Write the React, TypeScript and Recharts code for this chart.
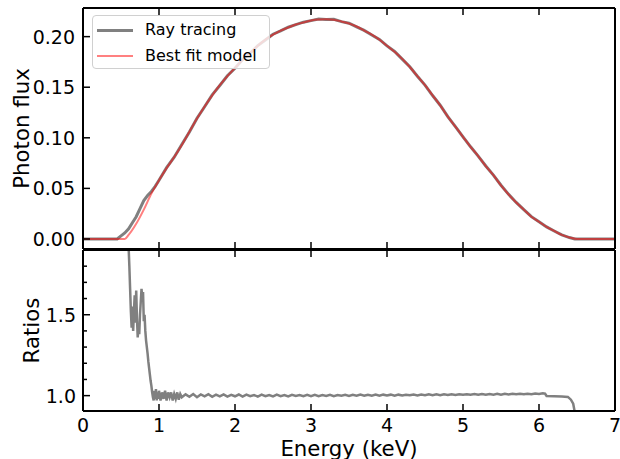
import { ComposedChart, Line, XAxis, YAxis, Legend, Label } from 'recharts';

// best fit model (top panel)
const modelEnergy = [0, 0.5, 0.55, 0.6, 0.7, 0.8, 0.9, 1.0, 1.1, 1.2, 1.3, 1.4, 1.5, 1.6, 1.7, 1.8, 1.9, 2.0, 2.1, 2.2, 2.3, 2.4, 2.5, 2.6, 2.7, 2.8, 2.9, 3.0, 3.1, 3.2, 3.3, 3.4, 3.5, 3.6, 3.7, 3.8, 3.9, 4.0, 4.1, 4.2, 4.3, 4.4, 4.5, 4.6, 4.7, 4.8, 4.9, 5.0, 5.1, 5.2, 5.3, 5.4, 5.5, 5.6, 5.7, 5.8, 5.9, 6.0, 6.1, 6.2, 6.3, 6.4, 6.5, 7.0];
const modelFlux = [0, 0, 0, 0.004, 0.015, 0.029, 0.045, 0.058, 0.07, 0.081, 0.093, 0.106, 0.119, 0.131, 0.142, 0.152, 0.161, 0.169, 0.177, 0.184, 0.191, 0.197, 0.202, 0.206, 0.209, 0.212, 0.214, 0.216, 0.217, 0.2172, 0.2168, 0.215, 0.213, 0.21, 0.206, 0.202, 0.197, 0.191, 0.185, 0.178, 0.17, 0.161, 0.152, 0.142, 0.132, 0.121, 0.111, 0.101, 0.091, 0.082, 0.072, 0.063, 0.053, 0.044, 0.036, 0.029, 0.022, 0.017, 0.012, 0.008, 0.004, 0.0015, 0, 0];

// ray tracing (top panel)
const rayEnergy = [0, 0.45, 0.5, 0.55, 0.6, 0.65, 0.7, 0.75, 0.8, 0.85, 0.9, 0.95, 1.0, 1.1, 1.2, 1.3, 1.4, 1.5, 1.6, 1.7, 1.8, 1.9, 2.0, 2.1, 2.2, 2.3, 2.4, 2.5, 2.6, 2.7, 2.8, 2.9, 3.0, 3.1, 3.2, 3.3, 3.4, 3.5, 3.6, 3.7, 3.8, 3.9, 4.0, 4.1, 4.2, 4.3, 4.4, 4.5, 4.6, 4.7, 4.8, 4.9, 5.0, 5.1, 5.2, 5.3, 5.4, 5.5, 5.6, 5.7, 5.8, 5.9, 6.0, 6.1, 6.2, 6.3, 6.4, 6.47, 7.0];
const rayFlux = [0, 0, 0.003, 0.006, 0.01, 0.016, 0.022, 0.03, 0.038, 0.043, 0.047, 0.052, 0.058, 0.0705, 0.0808, 0.0934, 0.1058, 0.1193, 0.1307, 0.1424, 0.1517, 0.1613, 0.1688, 0.1773, 0.1836, 0.1912, 0.1967, 0.2024, 0.2057, 0.2093, 0.2118, 0.2143, 0.2158, 0.2174, 0.2169, 0.2171, 0.2148, 0.2133, 0.2097, 0.2062, 0.2017, 0.1972, 0.1908, 0.1853, 0.1778, 0.1702, 0.1609, 0.1521, 0.1418, 0.1322, 0.1209, 0.1111, 0.1009, 0.0911, 0.0819, 0.0721, 0.0631, 0.0531, 0.0441, 0.0361, 0.0291, 0.0221, 0.0171, 0.0119, 0.0079, 0.004, 0.0014, 0, 0];

// ratio ray tracing / model (bottom panel)
const ratioEnergy = [0.58, 0.59, 0.6, 0.61, 0.62, 0.63, 0.64, 0.65, 0.66, 0.67, 0.68, 0.69, 0.7, 0.71, 0.72, 0.73, 0.74, 0.75, 0.76, 0.77, 0.78, 0.79, 0.8, 0.81, 0.82, 0.83, 0.84, 0.85, 0.86, 0.87, 0.88, 0.89, 0.9, 0.91, 0.92, 0.93, 0.94, 0.95, 0.96, 0.97, 0.98, 0.99, 1.0, 1.02, 1.04, 1.06, 1.08, 1.1, 1.12, 1.14, 1.16, 1.18, 1.2, 1.22, 1.24, 1.26, 1.28, 1.3,
  1.35, 1.4, 1.45, 1.5, 1.55, 1.6, 1.65, 1.7, 1.75, 1.8, 1.85, 1.9, 1.95, 2.0, 2.05, 2.1, 2.15, 2.2, 2.25, 2.3, 2.35, 2.4, 2.45, 2.5, 2.55, 2.6, 2.65, 2.7, 2.75, 2.8, 2.85, 2.9, 2.95, 3.0,
  3.05, 3.1, 3.15, 3.2, 3.25, 3.3, 3.35, 3.4, 3.45, 3.5, 3.55, 3.6, 3.65, 3.7, 3.75, 3.8, 3.85, 3.9, 3.95, 4.0, 4.05, 4.1, 4.15, 4.2, 4.25, 4.3, 4.35, 4.4, 4.45, 4.5, 4.55, 4.6, 4.65, 4.7,
  4.75, 4.8, 4.85, 4.9, 4.95, 5.0, 5.05, 5.1, 5.15, 5.2, 5.25, 5.3, 5.35, 5.4, 5.45, 5.5, 5.55, 5.6, 5.65, 5.7, 5.75, 5.8, 5.85, 5.9, 5.95, 6.0, 6.05, 6.08, 6.1, 6.2, 6.3, 6.38, 6.42, 6.45, 6.47, 6.48];
const ratioValue = [2.6, 2.1, 1.92, 1.8, 1.66, 1.52, 1.42, 1.55, 1.4, 1.52, 1.62, 1.45, 1.65, 1.48, 1.36, 1.44, 1.38, 1.5, 1.58, 1.66, 1.6, 1.64, 1.46, 1.5, 1.4, 1.34, 1.3, 1.26, 1.21, 1.17, 1.13, 1.09, 1.06, 1.02, 0.99, 0.97, 1.03, 0.98, 1.04, 0.97, 1.02, 0.98, 1.03, 0.97, 1.02, 0.98, 1.03, 0.97, 1.02, 0.99, 1.02, 0.97, 1.01, 0.98, 1.02, 0.975, 1.01, 0.99,
  1.008, 0.993, 1.01, 0.99, 1.007, 0.995, 1.009, 0.993, 1.006, 0.995, 1.008, 0.994, 1.005, 0.996, 1.007, 0.994, 1.006, 0.996, 1.004, 0.994, 1.006, 0.996, 1.004, 0.995, 1.006, 0.997, 1.004, 0.995, 1.005, 0.998, 1.004, 0.996, 1.005, 0.997,
  1.005, 0.997, 1.004, 0.998, 1.005, 0.997, 1.004, 0.999, 1.005, 0.998, 1.005, 0.999, 1.006, 0.999, 1.005, 1.0, 1.006, 0.999, 1.006, 1.001, 1.006, 1.0, 1.006, 1.001, 1.006, 1.002, 1.007, 1.001, 1.007, 1.003, 1.008, 1.002, 1.008, 1.003,
  1.008, 1.004, 1.009, 1.004, 1.009, 1.005, 1.009, 1.005, 1.01, 1.005, 1.01, 1.006, 1.01, 1.006, 1.011, 1.006, 1.011, 1.007, 1.012, 1.008, 1.012, 1.008, 1.012, 1.009, 1.013, 1.01, 1.014, 1.012, 0.998, 0.996, 0.995, 0.992, 0.975, 0.95, 0.9, 0.85];

const energyTicks = [0, 1, 2, 3, 4, 5, 6, 7];
const fluxTicks = [0, 0.05, 0.1, 0.15, 0.2];
const ratioTicks = [1.0, 1.1, 1.2, 1.3, 1.4, 1.5, 1.6, 1.7, 1.8];
const ratioMajor = [1.0, 1.5];

const modelData = modelEnergy.map((e, i) => ({ e, v: modelFlux[i] }));
const rayData = rayEnergy.map((e, i) => ({ e, v: rayFlux[i] }));
const ratioData = ratioEnergy.map((e, i) => ({ e, v: ratioValue[i] }));

const FONT = '"DejaVu Sans", sans-serif';
const FLUX_DOMAIN = [-0.0099, 0.2283];
const RATIO_DOMAIN = [0.905, 1.9];

const XTickUp = ({ x, y, payload, showLabel }: any) => (
  <g>
    <line x1={x} x2={x} y1={y} y2={y - 7} stroke="#000" strokeWidth={1.5} />
    {showLabel && (
      <text x={x} y={y + 21} textAnchor="middle" fontSize={19} fontFamily={FONT} fill="#000">
        {payload.value}
      </text>
    )}
  </g>
);

const XTickDown = ({ x, y }: any) => (
  <line x1={x} x2={x} y1={y} y2={y + 7} stroke="#000" strokeWidth={1.5} />
);

const FluxTick = ({ x, y, payload }: any) => (
  <g>
    <line x1={x} x2={x + 7} y1={y} y2={y} stroke="#000" strokeWidth={1.5} />
    <text x={x - 8} y={y} textAnchor="end" dominantBaseline="central" fontSize={19} fontFamily={FONT} fill="#000">
      {payload.value.toFixed(2)}
    </text>
  </g>
);

const RatioTick = ({ x, y, payload }: any) => {
  const major = ratioMajor.some((m) => Math.abs(m - payload.value) < 1e-6);
  return (
    <g>
      <line x1={x} x2={x + (major ? 7 : 4)} y1={y} y2={y} stroke="#000" strokeWidth={1.5} />
      {major && (
        <text x={x - 7} y={y} textAnchor="end" dominantBaseline="central" fontSize={19} fontFamily={FONT} fill="#000">
          {payload.value.toFixed(1)}
        </text>
      )}
    </g>
  );
};

const LegendBox = () => (
  <div
    style={{
      width: 176,
      height: 52,
      border: '1px solid #d0d0d0',
      borderRadius: 4,
      background: 'rgba(255,255,255,0.8)',
      fontFamily: FONT,
      fontSize: 16,
      color: '#000',
    }}
  >
    {[
      { name: 'Ray tracing', color: '#808080', w: 3 },
      { name: 'Best fit model', color: '#ff8080', w: 1.5 },
    ].map((it) => (
      <div key={it.name} style={{ display: 'flex', alignItems: 'center', height: 24, marginTop: 2 }}>
        <div style={{ width: 36, height: it.w, background: it.color, marginLeft: 4, marginRight: 12 }} />
        <span style={{ lineHeight: '24px' }}>{it.name}</span>
      </div>
    ))}
  </div>
);

const axisLine = { stroke: '#000', strokeWidth: 2 };

const yLabel = (text: string, dx: number) => ({ viewBox }: any) => {
  const cx = viewBox.x + dx;
  const cy = viewBox.y + viewBox.height / 2;
  return (
    <text x={cx} y={cy} transform={`rotate(-90 ${cx} ${cy})`} textAnchor="middle" dominantBaseline="central" fontSize={21.3} fontFamily={FONT} fill="#000">
      {text}
    </text>
  );
};

export default function App() {
  return (
    <div style={{ position: 'absolute', left: 0, top: 0, width: 620, height: 459, background: '#fff', fontFamily: FONT }}>
      <div style={{ position: 'absolute', left: 0, top: 0 }}>
        <ComposedChart width={620} height={250} margin={{ top: 7, right: 4, bottom: 0, left: 0 }}>
          <XAxis xAxisId="b" dataKey="e" type="number" domain={[0, 7]} allowDataOverflow ticks={energyTicks} interval={0}
            orientation="bottom" height={1} tickSize={0} tickMargin={0} tickLine={false} axisLine={axisLine}
            tick={(p: any) => <XTickUp {...p} showLabel={false} />} />
          <XAxis xAxisId="t" dataKey="e" type="number" domain={[0, 7]} allowDataOverflow ticks={energyTicks} interval={0}
            orientation="top" height={1} tickSize={0} tickMargin={0} tickLine={false} axisLine={axisLine}
            tick={(p: any) => <XTickDown {...p} />} />
          <YAxis yAxisId="l" type="number" domain={FLUX_DOMAIN} allowDataOverflow ticks={fluxTicks} interval={0}
            width={83} tickSize={0} tickMargin={0} tickLine={false} axisLine={axisLine}
            tick={(p: any) => <FluxTick {...p} />}>
            <Label content={yLabel('Photon flux', 21)} />
          </YAxis>
          <YAxis yAxisId="r" orientation="right" type="number" domain={FLUX_DOMAIN} allowDataOverflow width={1}
            ticks={fluxTicks} tickSize={0} tick={() => <g />} tickLine={false} axisLine={axisLine} />
          <Legend layout="vertical" align="center" verticalAlign="middle" content={<LegendBox />}
            wrapperStyle={{ left: 92, top: 15, width: 178, height: 54 }} />
          <Line xAxisId="b" yAxisId="l" data={rayData} dataKey="v" name="Ray tracing" type="linear" stroke="#808080"
            strokeWidth={3} dot={false} isAnimationActive={false} />
          <Line xAxisId="t" yAxisId="r" data={modelData} dataKey="v" name="Best fit model" type="monotone" stroke="#ff0000"
            strokeOpacity={0.5} strokeWidth={2} dot={false} isAnimationActive={false} />
        </ComposedChart>
      </div>
      <div style={{ position: 'absolute', left: 0, top: 249 }}>
        <ComposedChart width={620} height={210} margin={{ top: 0, right: 4, bottom: 0, left: 0 }}>
          <XAxis xAxisId="b" dataKey="e" type="number" domain={[0, 7]} allowDataOverflow ticks={energyTicks} interval={0}
            orientation="bottom" height={48} tickSize={0} tickMargin={0} tickLine={false} axisLine={axisLine}
            tick={(p: any) => <XTickUp {...p} showLabel />}>
            <Label
              content={({ viewBox }: any) => (
                <text x={viewBox.x + viewBox.width / 2} y={viewBox.y + 45} textAnchor="middle" fontSize={21.3} fontFamily={FONT} fill="#000">
                  Energy (keV)
                </text>
              )}
            />
          </XAxis>
          <XAxis xAxisId="t" dataKey="e" type="number" domain={[0, 7]} allowDataOverflow ticks={energyTicks} interval={0}
            orientation="top" height={1} tickSize={0} tickMargin={0} tickLine={false} axisLine={axisLine}
            tick={(p: any) => <XTickDown {...p} />} />
          <YAxis yAxisId="l" type="number" domain={RATIO_DOMAIN} allowDataOverflow ticks={ratioTicks} interval={0}
            width={83} tickSize={0} tickMargin={0} tickLine={false} axisLine={axisLine}
            tick={(p: any) => <RatioTick {...p} />}>
            <Label content={yLabel('Ratios', 31)} />
          </YAxis>
          <YAxis yAxisId="r" orientation="right" type="number" domain={RATIO_DOMAIN} allowDataOverflow width={1}
            ticks={ratioTicks} tickSize={0} tick={() => <g />} tickLine={false} axisLine={axisLine} />
          <Line xAxisId="b" yAxisId="l" data={ratioData} dataKey="v" type="linear" stroke="#808080"
            strokeWidth={2.5} dot={false} isAnimationActive={false} />
        </ComposedChart>
      </div>
    </div>
  );
}
